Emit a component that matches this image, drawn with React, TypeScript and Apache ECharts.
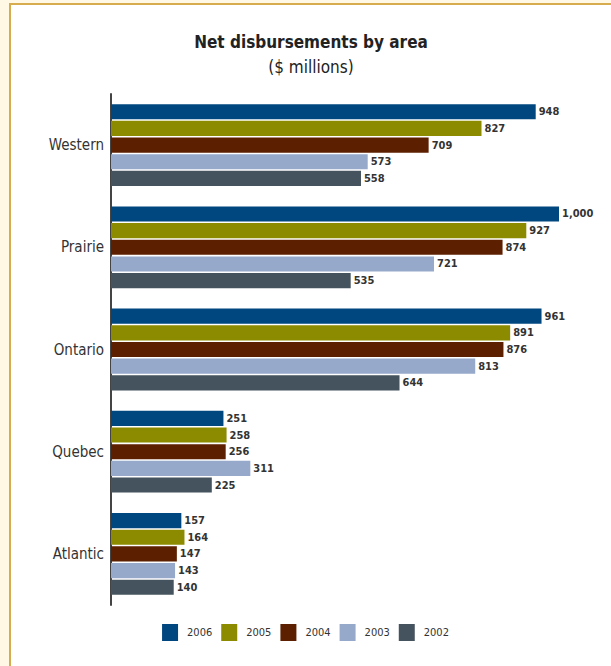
import React, { useEffect, useRef } from "react";
import * as echarts from "echarts";

const categories = ["Western", "Prairie", "Ontario", "Quebec", "Atlantic"];
const years = ["2006", "2005", "2004", "2003", "2002"];
const v2006 = [948, 1000, 961, 251, 157];
const v2005 = [827, 927, 891, 258, 164];
const v2004 = [709, 874, 876, 256, 147];
const v2003 = [573, 721, 813, 311, 143];
const v2002 = [558, 535, 644, 225, 140];
const colors = ["#00477f", "#8c8b00", "#5c1f00", "#96a9ca", "#44535d"];

const FONT = "'Liberation Sans Narrow', 'DejaVu Sans Condensed', Roboto, sans-serif";

export default function App() {
  const ref = useRef<HTMLDivElement>(null);
  useEffect(() => {
    const chart = echarts.init(ref.current!, null, { renderer: "svg" });
    const seriesData = [v2006, v2005, v2004, v2003, v2002];
    chart.setOption({
      animation: false,
      backgroundColor: "#fff8e5",
      graphic: [
        {
          type: "rect",
          shape: { x: 10, y: 4, width: 640, height: 700 },
          style: { fill: "#ffffff", stroke: "#d6ac4e", lineWidth: 2 },
          z: -10,
        },
      ],
      title: {
        text: "Net disbursements by area",
        subtext: "($ millions)",
        left: 306,
        textAlign: "center",
        top: 28,
        itemGap: 8,
        textStyle: { fontFamily: FONT, fontSize: 17, fontWeight: "bold", color: "#222" },
        subtextStyle: { fontFamily: FONT, fontSize: 17, color: "#222" },
      },
      legend: {
        data: years,
        top: 619,
        left: "center",
        itemWidth: 16,
        itemHeight: 17,
        itemGap: 9,
        icon: "rect",
        textStyle: { fontFamily: FONT, fontSize: 11, color: "#333", padding: [0, 0, 0, 4] },
      },
      grid: { left: 111, right: 52, top: 94, bottom: 61, containLabel: false },
      xAxis: {
        type: "value",
        min: 0,
        max: 1000,
        show: false,
      },
      yAxis: {
        type: "category",
        data: categories,
        inverse: true,
        axisTick: { show: false },
        axisLine: { show: true, lineStyle: { color: "#444", width: 2 } },
        axisLabel: { fontFamily: FONT, fontSize: 15, color: "#333", margin: 7 },
      },
      series: years.map((y, i) => ({
        name: y,
        type: "bar",
        data: seriesData[i],
        barCategoryGap: "20%",
        barGap: "10%",
        itemStyle: { color: colors[i] },
        label: {
          show: true,
          position: "right",
          distance: 3,
          fontFamily: FONT,
          fontSize: 11,
          fontWeight: "bold",
          color: "#333",
          formatter: (p: any) => p.value.toLocaleString("en-US"),
        },
      })),
    });
    return () => chart.dispose();
  }, []);
  return (
    <div
      ref={ref}
      style={{ position: "fixed", left: 0, top: 0, width: 611, height: 666 }}
    />
  );
}
